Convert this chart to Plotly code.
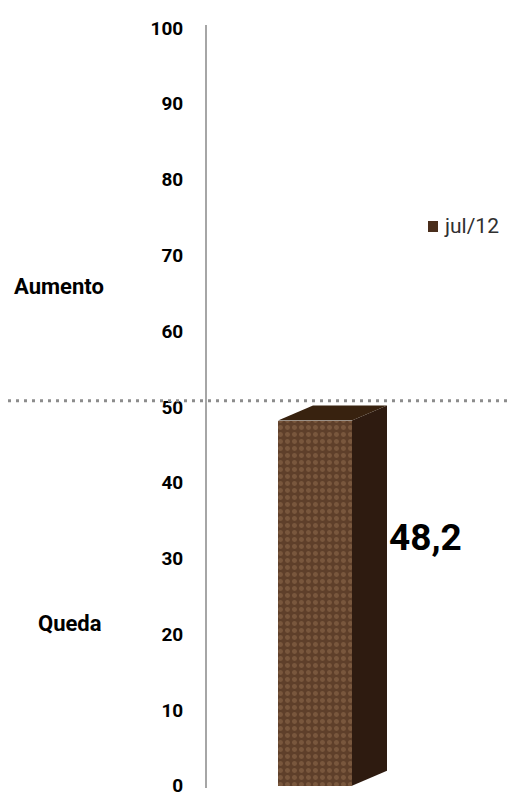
import plotly.graph_objects as go

categories = ["jul/12"]
values = [48.2]
tick_vals = [0, 10, 20, 30, 40, 50, 60, 70, 80, 90, 100]
tick_text = [str(v) for v in tick_vals]
threshold = 50.8
zone_labels = ["Aumento", "Queda"]
zone_y = [65.9, 21.4]
value_labels = ["48,2"]

FONT = "Roboto, Arial"
OFF = 8  # page body margin
W, H = 509, 790
ml, mr, mt, mb = 199, 0, 17, 10
pw = W - ml - mr
ph = H - mt - mb
y0, y1 = -0.3, 100.4
PX0 = ml + OFF  # absolute x of plot left


def px(ax):
    return (ax - PX0) / pw


def py(ay):
    return (788 - ay) / ph


bar_x = px(315)
bar_w = 74 / pw
depth_x = 35 / pw
depth_y = 15 / ph * (y1 - y0)

front = "#5e3f2a"
side = "#2e1b10"
top = "#38220f"

fig = go.Figure()
for cat, v in zip(categories, values):
    xr = bar_x + bar_w / 2
    xl = bar_x - bar_w / 2
    fig.add_trace(go.Scatter(
        x=[xr, xr + depth_x, xr + depth_x, xr], y=[0, depth_y, v + depth_y, v],
        fill="toself", mode="lines", line=dict(width=0, color=side),
        fillcolor=side, showlegend=False, hoverinfo="skip"))
    fig.add_trace(go.Scatter(
        x=[xl, xl + depth_x, xr + depth_x, xr], y=[v, v + depth_y, v + depth_y, v],
        fill="toself", mode="lines", line=dict(width=0, color=top),
        fillcolor=top, showlegend=False, hoverinfo="skip"))
    fig.add_trace(go.Bar(
        x=[bar_x], y=[v], width=[bar_w], name=cat,
        marker=dict(color=front, line=dict(width=0),
                    pattern=dict(shape=".", fgcolor="#94704f", bgcolor=front, size=7, solidity=0.4)),
        showlegend=False))

# legend (drawn as swatch + text to match the tight spacing of the original)
for i, cat in enumerate(categories):
    fig.add_shape(type="rect", xref="paper", yref="paper",
                  x0=px(428), x1=px(438), y0=py(232), y1=py(221),
                  fillcolor="#4a2e1c", line=dict(width=0))
    fig.add_annotation(x=px(442), y=py(226), xref="paper", yref="paper", text=cat,
                       showarrow=False, xanchor="left", yanchor="middle",
                       font=dict(family=FONT, size=21, color="#303030"))

for lbl, v in zip(value_labels, values):
    fig.add_annotation(x=bar_x + bar_w / 2 + depth_x, y=v * 0.68, xref="x", yref="y",
                       text=lbl, showarrow=False, xanchor="left", xshift=0,
                       font=dict(family=FONT, size=37, color="black", weight="bold"))

zone_x = [59, 70]
for lbl, yy, xx in zip(zone_labels, zone_y, zone_x):
    fig.add_annotation(x=px(xx), y=yy, xref="paper", yref="y", text=lbl, showarrow=False,
                       xanchor="center", font=dict(family=FONT, size=22, color="black", weight="bold"))

fig.add_shape(type="line", xref="paper", yref="y", x0=px(0), x1=px(517), y0=threshold, y1=threshold,
              line=dict(color="#8c8c8c", width=3, dash="3px,5px"))

fig.update_layout(
    width=W, height=H,
    margin=dict(l=ml, r=mr, t=mt, b=mb),
    paper_bgcolor="white", plot_bgcolor="white",
    showlegend=False,
    bargap=0,
)
fig.update_xaxes(range=[0, 1], visible=False, fixedrange=True)
fig.update_yaxes(range=[y0, y1], tickvals=tick_vals, ticktext=tick_text,
                 showgrid=False, zeroline=False, showline=True, linecolor="#a6a6a6", linewidth=2,
                 ticks="", ticklabelstandoff=18,
                 tickfont=dict(family=FONT, size=19, color="black", weight="bold"))

fig.write_html("out.html")
